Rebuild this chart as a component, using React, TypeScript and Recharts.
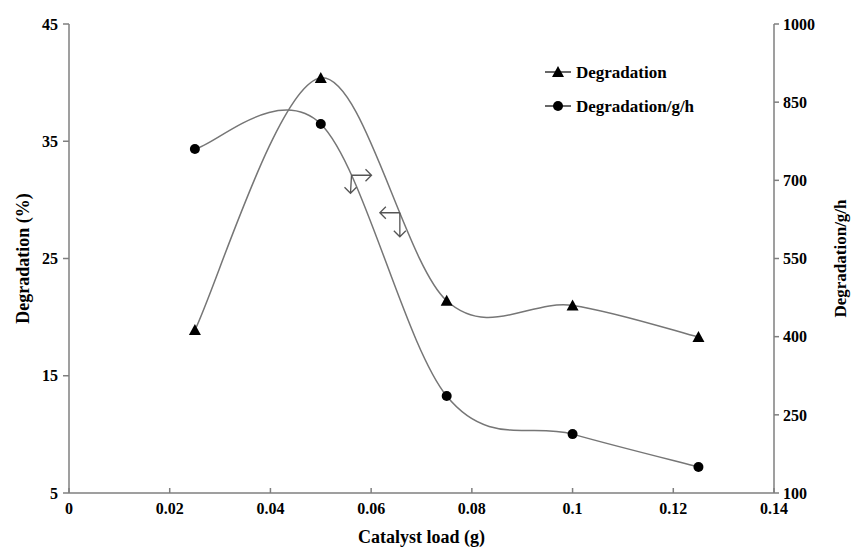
import React from 'react';
import { LineChart, Line, XAxis, YAxis, ReferenceDot } from 'recharts';

const loads = [0.025, 0.05, 0.075, 0.1, 0.125];
const degradation = [18.9, 40.4, 21.4, 21.0, 18.3];
const degradationPerGH = [760, 808, 286, 213, 150];
const xTicks = [0, 0.02, 0.04, 0.06, 0.08, 0.1, 0.12, 0.14];
const leftTicks = [5, 15, 25, 35, 45];
const rightTicks = [100, 250, 400, 550, 700, 850, 1000];

const data = loads.map((x, i) => ({ x, deg: degradation[i], rate: degradationPerGH[i] }));

const FONT = '"Liberation Serif", "Times New Roman", serif';
const AXIS = '#7f7f7f';
const LINE = '#767676';

// Excel-like smoothed curve (Catmull-Rom through the points)
const excelSmooth = (context: any) => {
  let pts: [number, number][] = [];
  return {
    areaStart() {},
    areaEnd() {},
    lineStart() {
      pts = [];
    },
    point(x: number, y: number) {
      pts.push([+x, +y]);
    },
    lineEnd() {
      if (!pts.length) return;
      context.moveTo(pts[0][0], pts[0][1]);
      for (let i = 0; i < pts.length - 1; i++) {
        const p0 = pts[Math.max(i - 1, 0)];
        const p1 = pts[i];
        const p2 = pts[i + 1];
        const p3 = pts[Math.min(i + 2, pts.length - 1)];
        context.bezierCurveTo(
          p1[0] + (p2[0] - p0[0]) / 6,
          p1[1] + (p2[1] - p0[1]) / 6,
          p2[0] - (p3[0] - p1[0]) / 6,
          p2[1] - (p3[1] - p1[1]) / 6,
          p2[0],
          p2[1]
        );
      }
    },
  };
};

const Triangle = ({ cx, cy }: any) =>
  cx == null ? null : <path d={`M${cx},${cy - 6}L${cx + 6},${cy + 5}L${cx - 6},${cy + 5}Z`} fill="#000" />;

const Dot = ({ cx, cy }: any) => (cx == null ? null : <circle cx={cx} cy={cy} r={5} fill="#000" />);

const tickStyle = { fill: '#000', fontSize: 16, fontWeight: 700, fontFamily: FONT };

const LegendBox = () => (
  <svg width={230} height={70} style={{ position: 'absolute', left: 540, top: 59 }}>
    <g fontFamily={FONT} fontSize={17} fontWeight={700}>
      <line x1={5} x2={31} y1={13} y2={13} stroke="#000" strokeWidth={1.2} />
      <path d="M18,7L24,18L12,18Z" fill="#000" />
      <text x={36} y={19}>Degradation</text>
      <line x1={5} x2={31} y1={47} y2={47} stroke="#000" strokeWidth={1.2} />
      <circle cx={18} cy={47} r={5} fill="#000" />
      <text x={36} y={53}>Degradation/g/h</text>
    </g>
  </svg>
);

// L-shaped arrows showing which axis each curve belongs to
const arrowRight = ({ cx, cy }: any) => (
  <g stroke="#555" strokeWidth={1.3} fill="none">
    <path d={`M${cx},${cy}L${cx + 20},${cy}M${cx + 14},${cy - 6}L${cx + 20},${cy}L${cx + 14},${cy + 6}`} />
    <path d={`M${cx},${cy}L${cx - 1},${cy + 18}M${cx - 7},${cy + 12}L${cx - 1},${cy + 18}L${cx + 5},${cy + 12}`} />
  </g>
);

const arrowLeft = ({ cx, cy }: any) => (
  <g stroke="#555" strokeWidth={1.3} fill="none">
    <path d={`M${cx},${cy}L${cx - 20},${cy}M${cx - 14},${cy - 6}L${cx - 20},${cy}L${cx - 14},${cy + 6}`} />
    <path d={`M${cx},${cy}L${cx},${cy + 24}M${cx - 6},${cy + 18}L${cx},${cy + 24}L${cx + 6},${cy + 18}`} />
  </g>
);

export default function App() {
  return (
    <div style={{ position: 'absolute', left: 0, top: 0, width: 851, height: 549, background: '#fff' }}>
      <LineChart width={851} height={549} data={data} margin={{ top: 24, right: 17, bottom: 0, left: 20 }}>
        <XAxis
          dataKey="x"
          type="number"
          domain={[0, 0.14]}
          ticks={xTicks}
          tickFormatter={(v: number) => String(v)}
          height={56}
          stroke={AXIS}
          strokeWidth={1.5}
          tickSize={-5}
          tickMargin={15}
          tick={tickStyle}
          label={({ viewBox }: any) => (
            <text
              x={viewBox.x + viewBox.width / 2}
              y={viewBox.y + 50}
              textAnchor="middle"
              fontFamily={FONT}
              fontSize={18}
              fontWeight={700}
            >
              Catalyst load (g)
            </text>
          )}
        />
        <YAxis
          yAxisId="left"
          domain={[5, 45]}
          ticks={leftTicks}
          width={49}
          stroke={AXIS}
          strokeWidth={1.5}
          tickSize={6}
          tickMargin={5}
          tick={tickStyle}
          label={({ viewBox }: any) => (
            <text
              x={viewBox.x + 3}
              y={viewBox.y + viewBox.height / 2}
              transform={`rotate(-90 ${viewBox.x + 3} ${viewBox.y + viewBox.height / 2})`}
              textAnchor="middle"
              dominantBaseline="central"
              fontFamily={FONT}
              fontSize={18}
              fontWeight={700}
            >
              Degradation (%)
            </text>
          )}
        />
        <YAxis
          yAxisId="right"
          orientation="right"
          domain={[100, 1000]}
          ticks={rightTicks}
          width={60}
          stroke={AXIS}
          strokeWidth={1.5}
          tickSize={5}
          tickMargin={4}
          tick={tickStyle}
          label={({ viewBox }: any) => (
            <text
              x={viewBox.x + 66}
              y={viewBox.y + viewBox.height / 2}
              transform={`rotate(-90 ${viewBox.x + 66} ${viewBox.y + viewBox.height / 2})`}
              textAnchor="middle"
              dominantBaseline="central"
              fontFamily={FONT}
              fontSize={17}
              fontWeight={700}
            >
              Degradation/g/h
            </text>
          )}
        />
        <Line
          yAxisId="left"
          dataKey="deg"
          type={excelSmooth as any}
          stroke={LINE}
          strokeWidth={1.5}
          dot={Triangle}
          activeDot={false}
          isAnimationActive={false}
        />
        <Line
          yAxisId="right"
          dataKey="rate"
          type={excelSmooth as any}
          stroke={LINE}
          strokeWidth={1.5}
          dot={Dot}
          activeDot={false}
          isAnimationActive={false}
        />
        <ReferenceDot yAxisId="left" x={0.0561} y={32.1} shape={arrowRight} />
        <ReferenceDot yAxisId="left" x={0.0657} y={28.9} shape={arrowLeft} />
      </LineChart>
      <LegendBox />
    </div>
  );
}
